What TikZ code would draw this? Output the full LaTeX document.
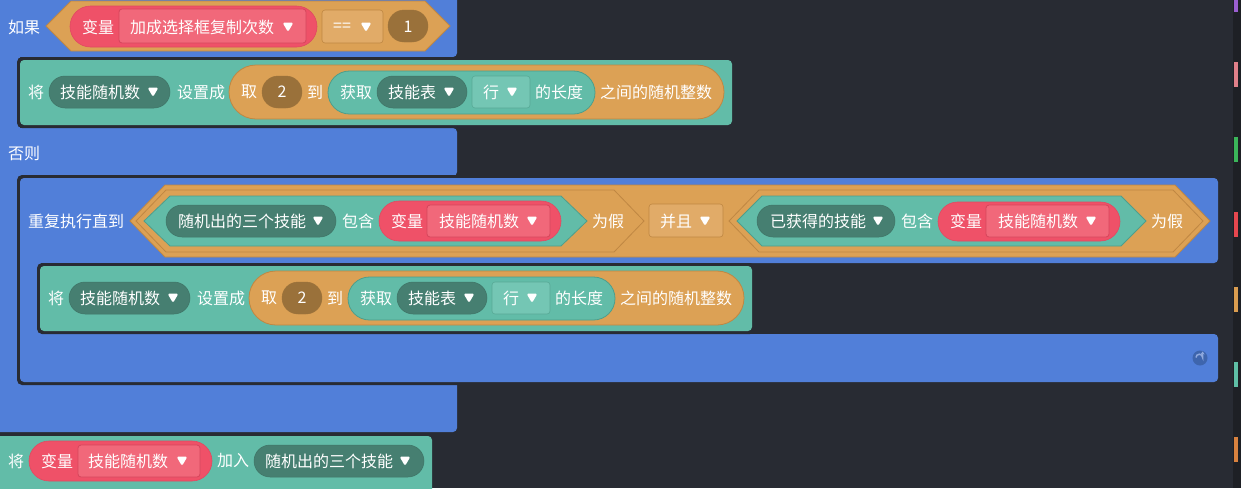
\documentclass[tikz,border=0pt]{standalone}
\usepackage{fontspec}
\setmainfont{Noto Sans CJK SC}
\usetikzlibrary{arrows.meta}
\definecolor{bg}{HTML}{282B33}
\definecolor{strip}{HTML}{1E2025}
\definecolor{blu}{HTML}{517FD9}
\definecolor{grn}{HTML}{62BCA8}
\definecolor{grnb}{HTML}{4E9E8B}
\definecolor{dteal}{HTML}{467F71}
\definecolor{dtealb}{HTML}{3F7466}
\definecolor{org}{HTML}{DCA155}
\definecolor{orgb}{HTML}{BF8743}
\definecolor{org2}{HTML}{E1AB68}
\definecolor{red1}{HTML}{EF5168}
\definecolor{red1b}{HTML}{E04A61}
\definecolor{red2}{HTML}{F1687A}
\definecolor{redb}{HTML}{D5465C}
\definecolor{brn}{HTML}{9A713A}
\definecolor{lteal}{HTML}{74C6B4}
\definecolor{ltealb}{HTML}{58A996}
\definecolor{iconbg}{HTML}{3E65AD}
\definecolor{iconfg}{HTML}{8FA9DE}
\definecolor{mk1}{HTML}{9B5FD0}
\definecolor{mk2}{HTML}{E0808A}
\definecolor{mk3}{HTML}{3BB65A}
\definecolor{mk4}{HTML}{E6474F}
\definecolor{mk5}{HTML}{DA9D50}
\definecolor{mk6}{HTML}{5FBFA6}
\definecolor{mk7}{HTML}{D9823F}
\tikzset{
  txt/.style={text=white, font=\fontsize{16}{19}\selectfont, inner sep=0pt, anchor=west},
  ctxt/.style={txt, anchor=center},
  blueblk/.style={fill=blu, rounded corners=4pt},
  outl/.style={fill=bg, rounded corners=5pt},
  greenblk/.style={fill=grn, rounded corners=4pt},
  pilldark/.style={fill=dteal, draw=dtealb, line width=0.5pt},
  pillred/.style={fill=red1, draw=red1b, line width=0.6pt},
  pillorg/.style={fill=org, draw=orgb, line width=0.8pt},
  pillgrn/.style={fill=grn, draw=grnb, line width=0.8pt},
  pillbrn/.style={fill=brn, draw=brn},
  boxred/.style={fill=red2, draw=redb, line width=0.8pt, rounded corners=3pt},
  boxorg/.style={fill=org2, draw=orgb, line width=0.6pt, rounded corners=3pt},
  boxteal/.style={fill=lteal, draw=ltealb, line width=0.6pt, rounded corners=3pt},
  hexorg/.style={fill=org, draw=orgb, line width=0.8pt, line join=miter},
  hexgrn/.style={fill=grn, draw=grnb, line width=0.8pt, line join=miter},
}
\newcommand\pill[5]{\pgfmathsetmacro\rr{(#5-#3)/2-0.01}\filldraw[#1, rounded corners=\rr pt] (#2,#3) rectangle (#4,#5);}
\newcommand\hexa[6]{\filldraw[#1] (#2,#4) -- (#2+#6,#4-#5) -- (#3-#6,#4-#5) -- (#3,#4) -- (#3-#6,#4+#5) -- (#2+#6,#4+#5) -- cycle;}
\newcommand\ddarrow[2]{\fill[white, rounded corners=1.6pt] (#1-5.5,#2-4.5) -- (#1+5.5,#2-4.5) -- (#1,#2+5) -- cycle;}
\newcommand\setrow{%
  \pill{pilldark}{49}{76}{170}{108}
  \pill{pillorg}{229}{65}{724}{119}
  \pill{pillbrn}{262}{76}{302}{108}
  \pill{pillgrn}{328}{71}{595}{114}
  \pill{pilldark}{377}{76}{467}{108}
  \filldraw[boxteal] (472,76) rectangle (530,108);
  \node[txt] (jiang) at (28,92) {将};
  \node[txt] (var) at (60,92) {技能随机数}; \ddarrow{153}{92}
  \node[txt] (setto) at (177,92) {设置成};
  \node[txt] (qu) at (241,92) {取};
  \node[ctxt] (two) at (282,92) {2};
  \node[txt] (dao) at (307,92) {到};
  \node[txt] (huoqu) at (340,92) {获取};
  \node[txt] (tbl) at (388,92) {技能表}; \ddarrow{449}{92}
  \node[txt] (hang) at (483,92) {行}; \ddarrow{512}{92}
  \node[txt] (len) at (535,92) {的长度};
  \node[txt] (rnd) at (600,92) {之间的随机整数};
}
\begin{document}
\begin{tikzpicture}[x=1pt,y=-1pt]
\clip (0,0) rectangle (1241,488);
\fill[bg] (0,0) rectangle (1241,488);
\fill[strip] (1233,0) rectangle (1241,488);
\fill[mk1] (1234,-2) rectangle (1238,12);
\fill[mk2] (1234,62) rectangle (1238,87);
\fill[mk3] (1234,137) rectangle (1238,162);
\fill[mk4] (1234,212) rectangle (1238,237);
\fill[mk5] (1234,287) rectangle (1238,312);
\fill[mk6] (1234,362) rectangle (1238,387);
\fill[mk7] (1234,437) rectangle (1238,462);
% if block (blue C shape)
\fill[blueblk] (-10,-10) rectangle (457,57);
\fill[blu] (-10,0) rectangle (20,430);
\fill[blueblk] (-10,128) rectangle (457,176);
\fill[blueblk] (-10,380) rectangle (457,432);
% row 1 : condition
\node[txt] (ruguo) at (8,27) {如果};
\hexa{hexorg}{46}{450}{26}{25}{25}
\pill{pillred}{70}{6}{317}{47}
\filldraw[boxred] (119,9) rectangle (306,43);
\filldraw[boxorg] (322,10) rectangle (383,43);
\pill{pillbrn}{388}{10}{428}{42}
\node[txt] (bl1) at (82,27) {变量};
\node[txt] (vn1) at (130,27) {加成选择框复制次数}; \ddarrow{288}{27}
\node[txt] (eq) at (333,27) {==}; \ddarrow{366}{27}
\node[ctxt] (one) at (408,27) {1};
% row 2 : set block
\fill[outl] (17,57) rectangle (735,128);
\fill[greenblk] (20,60) rectangle (732,125);
\begin{scope}[name prefix=a-]
\setrow
\end{scope}
% else
\node[txt] (fouze) at (8,153) {否则};
% repeat block
\fill[outl] (17,175) rectangle (1221,385);
\fill[blueblk] (20,178) rectangle (1218,263);
\fill[blu] (20,190) rectangle (41,370);
\fill[blueblk] (20,334) rectangle (1218,382);
\node[txt] (repeat) at (28,221) {重复执行直到};
\hexa{hexorg}{130}{1210}{221}{36}{35}
\hexa{hexorg}{136}{644}{221}{31}{30}
\hexa{hexorg}{729}{1203}{221}{31}{30}
\hexa{hexgrn}{144}{587}{221}{25}{26}
\hexa{hexgrn}{737}{1146}{221}{25}{25}
\pill{pilldark}{166}{205}{336}{237}
\pill{pillred}{379}{201}{561}{241}
\filldraw[boxred] (427,205) rectangle (550,237);
\filldraw[boxorg] (649,204) rectangle (723,237);
\pill{pilldark}{757}{205}{895}{237}
\pill{pillred}{938}{202}{1120}{241}
\filldraw[boxred] (986,205) rectangle (1109,237);
\node[txt] (lst1) at (178,221) {随机出的三个技能}; \ddarrow{318}{221}
\node[txt] (bh1) at (342,221) {包含};
\node[txt] (bl2) at (391,221) {变量};
\node[txt] (vn2) at (439,221) {技能随机数}; \ddarrow{532}{221}
\node[txt] (wj1) at (592,221) {为假};
\node[txt] (and) at (660,221) {并且}; \ddarrow{705}{221}
\node[txt] (lst2) at (770,221) {已获得的技能}; \ddarrow{878}{221}
\node[txt] (bh2) at (901,221) {包含};
\node[txt] (bl3) at (950,221) {变量};
\node[txt] (vn3) at (998,221) {技能随机数}; \ddarrow{1091}{221}
\node[txt] (wj2) at (1151,221) {为假};
% inner set block
\fill[outl] (37,263) rectangle (755,334);
\fill[greenblk] (40,266) rectangle (752,331);
\begin{scope}[shift={(20,206)}, name prefix=b-]
\setrow
\end{scope}
% loop icon
\fill[iconbg] (1200,358) circle (7.5);
\draw[iconfg, line width=1.5pt, -{Stealth[length=3pt,width=4pt]}] (1196,357.5) arc[start angle=180, end angle=360, radius=3.3] -- (1202.6,351.5);
% final block
\fill[greenblk] (-10,436) rectangle (432,500);
\pill{pillred}{29}{441}{212}{481}
\filldraw[boxred] (78,445) rectangle (200,477);
\pill{pilldark}{254}{445}{424}{477}
\node[txt] (jiang2) at (8,461) {将};
\node[txt] (bl4) at (41,461) {变量};
\node[txt] (vn4) at (88,461) {技能随机数}; \ddarrow{182}{461}
\node[txt] (jr) at (217,461) {加入};
\node[txt] (lst3) at (265,461) {随机出的三个技能}; \ddarrow{405}{461}
\end{tikzpicture}
\end{document}
